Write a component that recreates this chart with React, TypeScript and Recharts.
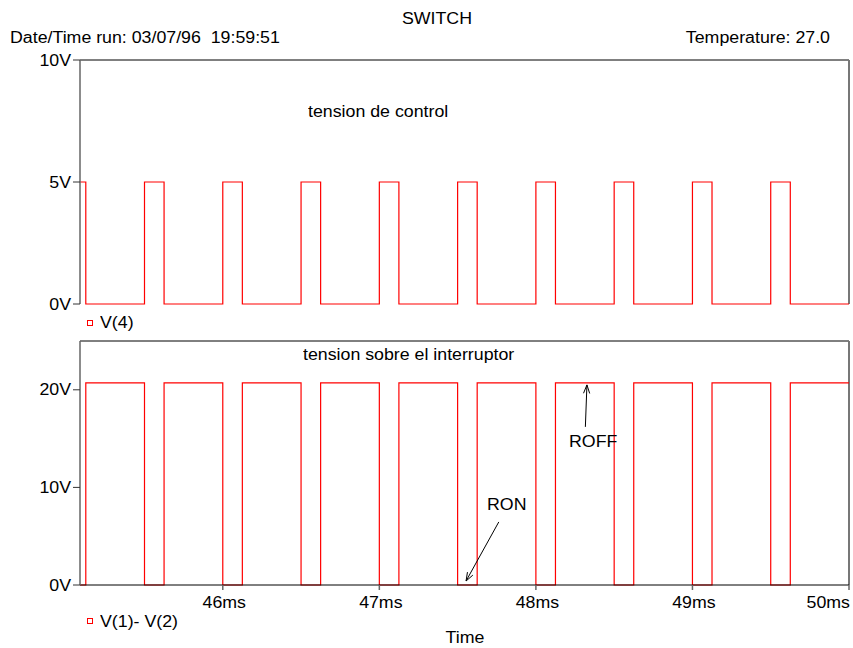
import { LineChart, Line, XAxis, YAxis, ReferenceLine } from "recharts";

const edgeTimes = [
  45.088, 45.125, 45.5, 45.625, 46.0, 46.125, 46.5, 46.625, 47.0, 47.125, 47.5,
  47.625, 48.0, 48.125, 48.5, 48.625, 49.0, 49.125, 49.5, 49.625, 50.0,
];
const controlVolts = [5, 0, 5, 0, 5, 0, 5, 0, 5, 0, 5, 0, 5, 0, 5, 0, 5, 0, 5, 0, 0];
const switchVolts = [
  0, 20.7, 0, 20.7, 0, 20.7, 0, 20.7, 0, 20.7, 0, 20.7, 0, 20.7, 0, 20.7, 0, 20.7, 0,
  20.7, 20.7,
];

const topTicks = [0, 5, 10];
const bottomTicks = [0, 10, 20];
const timeTicks = [46, 47, 48, 49, 50];
const timeDomain = [45.088, 50];

// annotation arrows: [tail, head] in data units (ms, V)
const roffArrow = [
  { x: 48.316, y: 16.2 },
  { x: 48.326, y: 20.5 },
];
const ronArrow = [
  { x: 47.763, y: 6.46 },
  { x: 47.554, y: 0.41 },
];

const controlData = edgeTimes.map((t, i) => ({ t, v: controlVolts[i] }));
const switchData = edgeTimes.map((t, i) => ({ t, v: switchVolts[i] }));

const FONT = '"Liberation Sans", Arial, sans-serif';
const RED = "#ff0000";
const STRETCH = 1.11; // the plot's lettering is a bit wider than plain Arial

const Arrow = (p: any) => {
  const { x1, y1, x2, y2 } = p;
  const a = Math.atan2(y2 - y1, x2 - x1);
  const len = 9;
  const s = 0.35;
  const ax = x2 - len * Math.cos(a - s);
  const ay = y2 - len * Math.sin(a - s);
  const bx = x2 - len * Math.cos(a + s);
  const by = y2 - len * Math.sin(a + s);
  return (
    <g>
      <line x1={x1} y1={y1} x2={x2} y2={y2} stroke="#000" strokeWidth={1} />
      <polyline points={`${ax},${ay} ${x2},${y2} ${bx},${by}`} fill="none" stroke="#000" strokeWidth={1} />
    </g>
  );
};

const VoltTick = ({ x, y, payload }: any) => (
  <text
    transform={`translate(${x},${y}) scale(${STRETCH},1)`}
    textAnchor="end"
    dy="0.355em"
    fill="#000"
    fontSize={16}
    fontFamily={FONT}
  >
    {`${payload.value}V`}
  </text>
);

const TimeTick = ({ x, y, payload }: any) => {
  const last = payload.value === timeTicks[timeTicks.length - 1];
  return (
    <text
      transform={`translate(${last ? x + 1 : x + 1.5},${y}) scale(${STRETCH},1)`}
      textAnchor={last ? "end" : "middle"}
      dy="0.71em"
      fill="#000"
      fontSize={16}
      fontFamily={FONT}
    >
      {`${payload.value}ms`}
    </text>
  );
};

const Txt = ({ x, y, children, align = "left" }: any) => (
  <div
    style={{
      position: "absolute",
      left: x,
      top: y,
      fontFamily: FONT,
      fontSize: 16,
      lineHeight: "16px",
      color: "#000",
      whiteSpace: "pre",
      transformOrigin: align === "center" ? "center" : align === "right" ? "right" : "left",
      transform:
        (align === "center" ? "translateX(-50%) " : align === "right" ? "translateX(-100%) " : "") +
        `scaleX(${STRETCH})`,
    }}
  >
    {children}
  </div>
);

const Marker = ({ x, y }: any) => (
  <div
    style={{
      position: "absolute",
      left: x,
      top: y,
      width: 4,
      height: 4,
      border: `1px solid ${RED}`,
    }}
  />
);

export default function App() {
  return (
    <div style={{ position: "absolute", left: 0, top: 0, width: 853, height: 648, background: "#fff" }}>
      <div style={{ position: "absolute", left: 0, top: 0 }}>
        <LineChart width={853} height={330} data={controlData} margin={{ top: 60, right: 4, bottom: 26, left: 0 }}>
          <XAxis
            dataKey="t"
            type="number"
            domain={timeDomain}
            allowDataOverflow
            ticks={timeTicks}
            tick={false}
            tickLine={false}
            height={0}
            axisLine={{ stroke: "#000", strokeWidth: 1 }}
          />
          <YAxis
            domain={[0, 10]}
            ticks={topTicks}
            interval={0}
            width={80}
            tickSize={7}
            tickMargin={2}
            tick={<VoltTick />}
            axisLine={{ stroke: "#666", strokeWidth: 1.5 }}
            tickLine={{ stroke: "#333" }}
          />
          <ReferenceLine y={10} stroke="#000" strokeWidth={1} />
          <ReferenceLine x={50} stroke="#777" strokeWidth={2} />
          <Line
            type="stepAfter"
            dataKey="v"
            stroke={RED}
            strokeWidth={1.2}
            dot={false}
            isAnimationActive={false}
          />
        </LineChart>
      </div>

      <div style={{ position: "absolute", left: 0, top: 300 }}>
        <LineChart width={853} height={348} data={switchData} margin={{ top: 41, right: 4, bottom: 33, left: 0 }}>
          <XAxis
            dataKey="t"
            type="number"
            domain={timeDomain}
            allowDataOverflow
            ticks={timeTicks}
            interval={0}
            height={30}
            tickSize={5}
            tickMargin={7}
            tick={<TimeTick />}
            axisLine={{ stroke: "#000", strokeWidth: 1 }}
            tickLine={{ stroke: "#666", strokeWidth: 1.5 }}
          />
          <YAxis
            domain={[0, 25]}
            ticks={bottomTicks}
            interval={0}
            width={80}
            tickSize={7}
            tickMargin={2}
            tick={<VoltTick />}
            axisLine={{ stroke: "#666", strokeWidth: 1.5 }}
            tickLine={{ stroke: "#333" }}
          />
          <ReferenceLine y={25} stroke="#000" strokeWidth={1} />
          <ReferenceLine x={50} stroke="#777" strokeWidth={2} />
          <Line
            type="stepAfter"
            dataKey="v"
            stroke={RED}
            strokeWidth={1.2}
            dot={false}
            isAnimationActive={false}
          />
          <ReferenceLine segment={roffArrow} shape={Arrow} />
          <ReferenceLine segment={ronArrow} shape={Arrow} />
        </LineChart>
      </div>

      <Txt x={437} y={11} align="center">SWITCH</Txt>
      <Txt x={10} y={30}>Date/Time run: 03/07/96  19:59:51</Txt>
      <Txt x={830} y={30} align="right">Temperature: 27.0</Txt>
      <Txt x={308} y={104}>tension de control</Txt>
      <Txt x={303} y={347}>tension sobre el interruptor</Txt>
      <Txt x={569} y={434}>ROFF</Txt>
      <Txt x={487} y={497}>RON</Txt>
      <Marker x={87} y={320} />
      <Txt x={100} y={315}>V(4)</Txt>
      <Marker x={87} y={618} />
      <Txt x={100} y={614}>V(1)- V(2)</Txt>
      <Txt x={465} y={630} align="center">Time</Txt>
    </div>
  );
}
